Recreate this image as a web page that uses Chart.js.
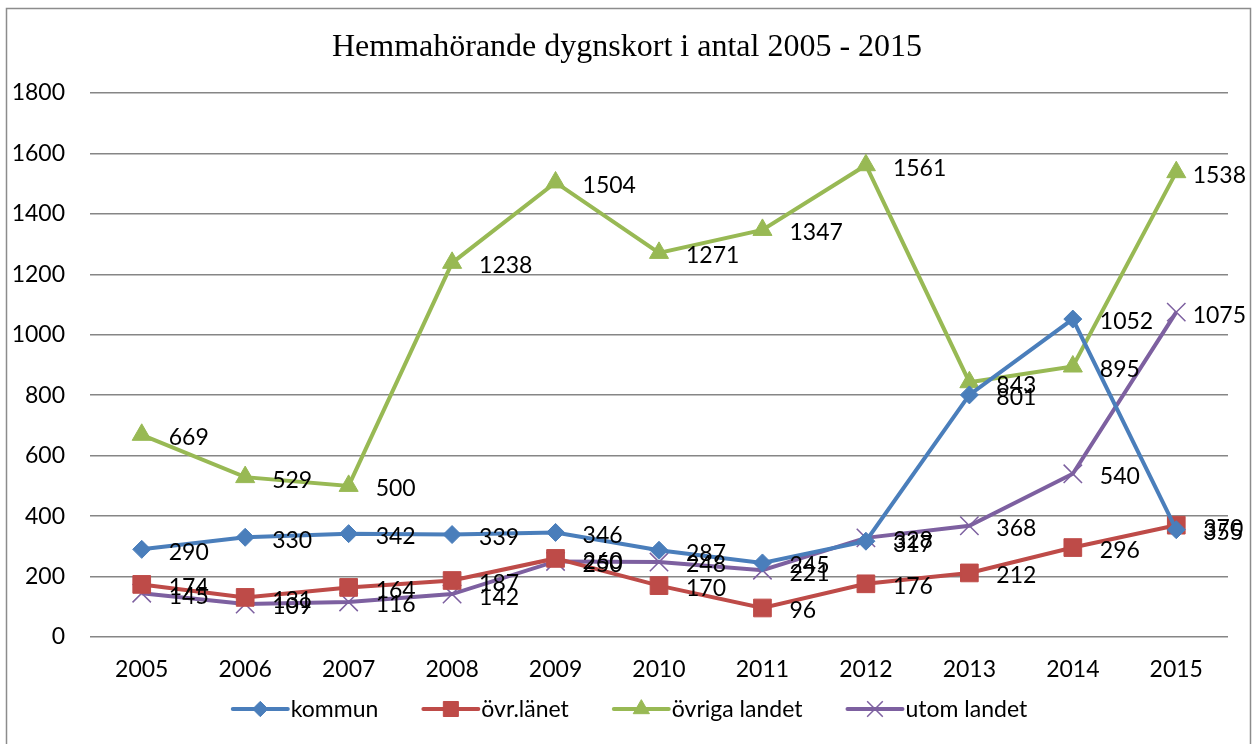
<!DOCTYPE html>
<html>
<head>
<meta charset="utf-8">
<script src="https://cdn.jsdelivr.net/npm/chart.js@4/dist/chart.umd.min.js"></script>
<style>
html,body{margin:0;padding:0;background:#fff;}
#wrap{width:1254px;height:744px;position:relative;}
</style>
</head>
<body>
<div id="wrap"><canvas id="c" width="1254" height="744"></canvas></div>
<script>
const title = 'Hemmahörande dygnskort i antal 2005 - 2015';
const years = ['2005','2006','2007','2008','2009','2010','2011','2012','2013','2014','2015'];
const kommun = [290, 330, 342, 339, 346, 287, 245, 317, 801, 1052, 355];
const ovrLanet = [174, 131, 164, 187, 260, 170, 96, 176, 212, 296, 370];
const ovrigaLandet = [669, 529, 500, 1238, 1504, 1271, 1347, 1561, 843, 895, 1538];
const utomLandet = [145, 109, 116, 142, 250, 248, 221, 328, 368, 540, 1075];
const seriesNames = ['kommun', 'övr.länet', 'övriga landet', 'utom landet'];
const yTicks = [0, 200, 400, 600, 800, 1000, 1200, 1400, 1600, 1800];

const FONT = 'Lato, "Open Sans", sans-serif';
const colors = ['#4A7EBB', '#BE4B48', '#98B954', '#7D60A0'];
const styles = [
  {pointStyle:'rectRot', radius:9},
  {pointStyle:'rect', radius:12.5},
  {pointStyle:'triangle', radius:11},
  {pointStyle:'crossRot', radius:13}
];

const frameTitle = {
  id:'frameTitle',
  beforeDraw(chart){
    const ctx = chart.ctx;
    ctx.save();
    ctx.fillStyle = '#fff';
    ctx.fillRect(0,0,chart.width,chart.height);
    ctx.strokeStyle = '#8c8c8c';
    ctx.lineWidth = 1.5;
    ctx.strokeRect(6.5, 8.5, 1244, 760);
    ctx.fillStyle = '#000';
    ctx.font = '32px "Liberation Serif", "Times New Roman", serif';
    ctx.textAlign = 'center';
    ctx.textBaseline = 'middle';
    ctx.fillText(title, 627, 48);
    ctx.restore();
  }
};

const dataLabels = {
  id:'dataLabels',
  afterDatasetsDraw(chart){
    const ctx = chart.ctx;
    ctx.save();
    ctx.font = '23px ' + FONT;
    ctx.fillStyle = '#000';
    ctx.textAlign = 'left';
    ctx.textBaseline = 'middle';
    chart.data.datasets.forEach((ds, di) => {
      const meta = chart.getDatasetMeta(di);
      meta.data.forEach((pt, i) => {
        const txt = String(ds.data[i]);
        const w = ctx.measureText(txt).width;
        let x = pt.x + 27;
        if (x + w > 1246) x = 1246 - w;
        ctx.fillText(txt, x, pt.y + 3);
      });
    });
    ctx.restore();
  }
};

const customLegend = {
  id:'customLegend',
  afterDraw(chart){
    const ctx = chart.ctx;
    ctx.save();
    ctx.font = '23px ' + FONT;
    const lineLen = 55, gapTxt = 3, gapItem = 45;
    const widths = seriesNames.map(n => lineLen + gapTxt + ctx.measureText(n).width);
    const total = widths.reduce((a,b)=>a+b,0) + gapItem*(seriesNames.length-1);
    let x = 630 - total/2;
    const y = 709;
    seriesNames.forEach((n, i) => {
      ctx.strokeStyle = colors[i];
      ctx.fillStyle = colors[i];
      ctx.lineWidth = 4;
      ctx.lineCap = 'round';
      ctx.beginPath();
      ctx.moveTo(x, y); ctx.lineTo(x + lineLen, y);
      ctx.stroke();
      ctx.lineCap = 'butt';
      ctx.lineWidth = styles[i].pointStyle === 'crossRot' ? 1.5 : 1;
      Chart.helpers.drawPoint(ctx, {
        pointStyle: styles[i].pointStyle,
        radius: styles[i].radius * 0.85,
        borderWidth: styles[i].pointStyle === 'crossRot' ? 1.5 : 1
      }, x + lineLen/2, y);
      ctx.fillStyle = '#000';
      ctx.textAlign = 'left';
      ctx.textBaseline = 'middle';
      ctx.fillText(n, x + lineLen + gapTxt, y + 1);
      x += widths[i] + gapItem;
    });
    ctx.restore();
  }
};

function build(){
  const seriesData = [kommun, ovrLanet, ovrigaLandet, utomLandet];
  const datasets = seriesData.map((d, i) => ({
    label: seriesNames[i],
    data: d,
    borderColor: colors[i],
    backgroundColor: colors[i],
    borderWidth: 4,
    pointStyle: styles[i].pointStyle,
    pointRadius: styles[i].radius,
    pointHoverRadius: styles[i].radius,
    pointBorderWidth: styles[i].pointStyle === 'crossRot' ? 1.5 : 1,
    pointBackgroundColor: colors[i],
    pointBorderColor: colors[i],
    tension: 0,
    fill: false
  }));
  new Chart(document.getElementById('c'), {
    type:'line',
    data:{labels: years, datasets},
    plugins:[frameTitle, dataLabels, customLegend],
    options:{
      responsive:false,
      animation:false,
      devicePixelRatio:1,
      layout:{padding:{left:0, top:93, right:26, bottom:0}},
      plugins:{legend:{display:false}, title:{display:false}, tooltip:{enabled:false}},
      scales:{
        x:{
          offset:true,
          grid:{display:false, drawTicks:false},
          border:{display:false},
          ticks:{font:{family:FONT, size:23}, color:'#000', padding:19, maxRotation:0, autoSkip:false},
          afterFit(s){ s.height = 107; }
        },
        y:{
          min:0, max:1800,
          afterBuildTicks(s){ s.ticks = yTicks.map(v => ({value:v})); },
          grid:{color:'#868686', lineWidth:1.5, drawTicks:false, tickLength:0},
          border:{display:false},
          ticks:{font:{family:FONT, size:23}, color:'#000', padding:25, callback:(v)=>String(v)},
          afterFit(s){ s.width = 90; }
        }
      }
    }
  });
}
if (document.fonts && document.fonts.load) {
  Promise.all([
    document.fonts.load('23px Lato'),
    document.fonts.load('32px "Liberation Serif"')
  ]).then(build, build);
} else build();
</script>
</body>
</html>
